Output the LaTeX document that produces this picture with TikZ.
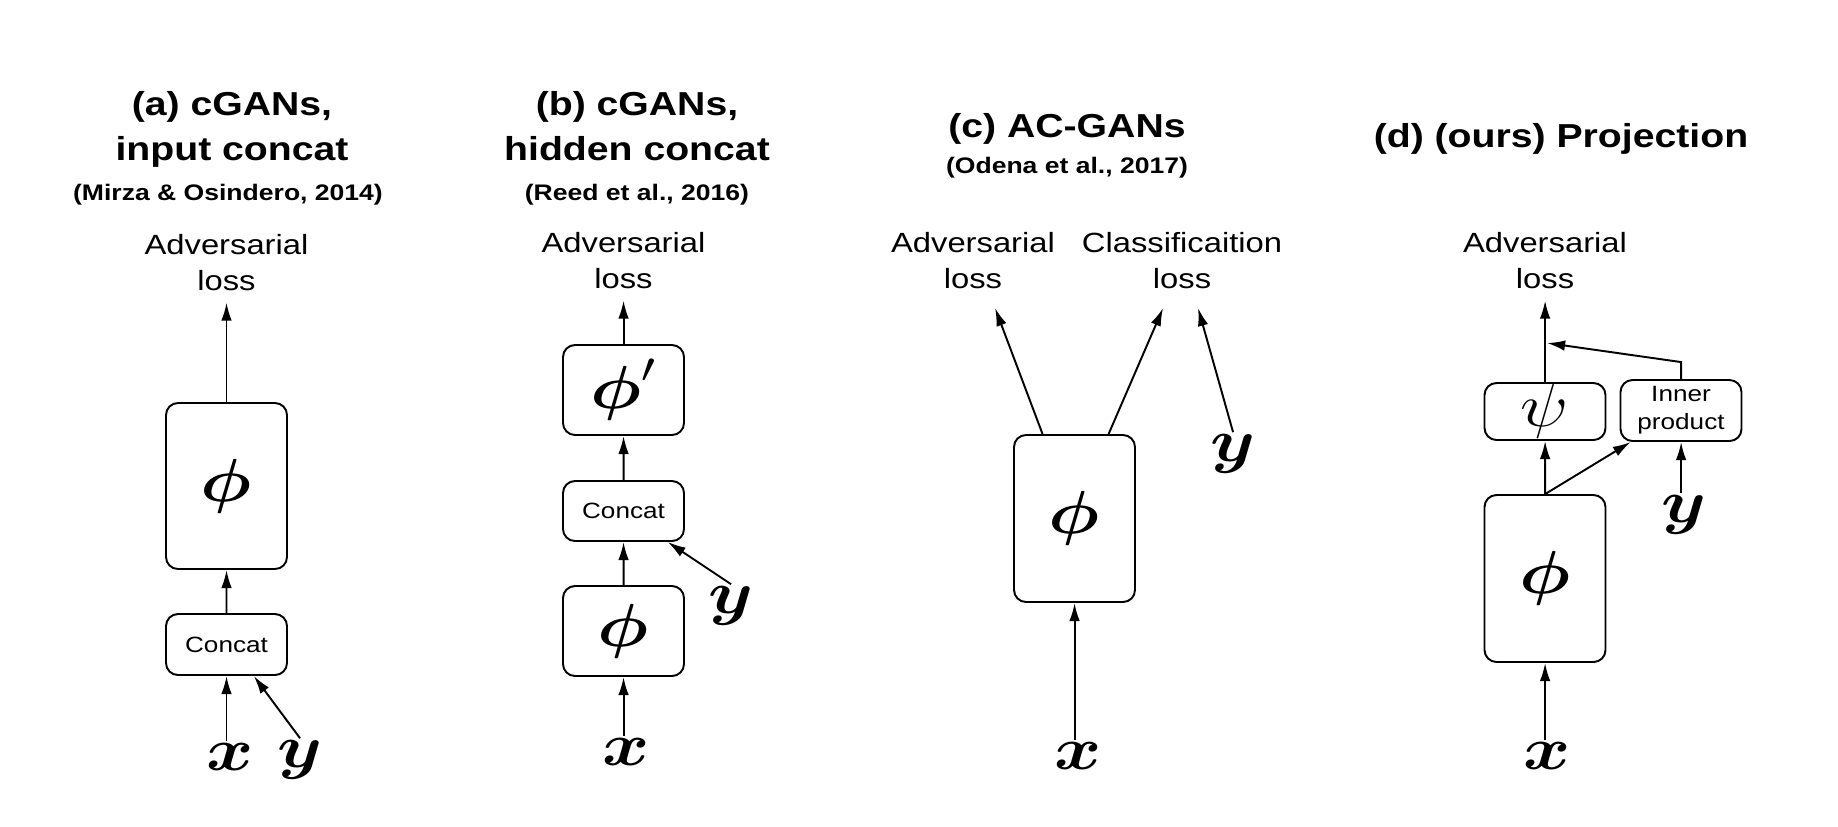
\documentclass[tikz,border=0pt]{standalone}
\usepackage{amsmath}
\usepackage{graphicx}
\usepackage{fontspec}
\setmainfont{Liberation Sans}[FakeStretch=1.18]
\usetikzlibrary{arrows.meta,positioning,calc}
\newcommand{\wm}[1]{\scalebox{1.18}[1]{$#1$}}

\begin{document}
\begin{tikzpicture}[scale=0.1,
    box/.style={draw, rounded corners=1.2mm, line width=0.55pt, minimum width=1.21cm, inner sep=0pt},
    arr/.style={-{Latex[length=1.8mm,width=1.05mm]}, line width=0.55pt},
    title/.style={font=\bfseries\fontsize{9.45}{12.75}\selectfont, align=center, anchor=base, inner sep=0pt},
    cite/.style={font=\bfseries\fontsize{6.4}{8}\selectfont, anchor=base, inner sep=0pt},
    loss/.style={font=\fontsize{7.9}{10.2}\selectfont, align=center, anchor=base, inner xsep=0pt, inner ysep=3.3pt},
    small/.style={font=\fontsize{6.3}{8}\selectfont, align=center},
    var/.style={font=\fontsize{17.5}{18}\selectfont, inner sep=0.5pt},
    net/.style={font=\fontsize{17.5}{18}\selectfont}]
    \useasboundingbox (0,0) rectangle (183.8,-82.6);
    % (a) input concat
    \node[title] (ta) at (23.2,-16.0) {(a) cGANs,\\input concat};
    \node[cite] (ra) at (22.8,-20.0) {(Mirza \& Osindero, 2014)};
    \node[loss] (la) at (22.65,-29.0) {Adversarial\\loss};
    \node[box, net, minimum height=1.66cm] (pa) at (22.65,-48.6) {\wm{\boldsymbol{\phi}}};
    \node[box, small, minimum height=0.61cm] (ca) at (22.65,-64.45) {Concat};
    \node[var] (xa) at (23.0,-75.7) {\wm{\boldsymbol{x}}};
    \node[var] (ya) at (30.0,-76.0) {\wm{\boldsymbol{y}}};
    \draw[arr] (ca.south |- xa.north) -- (ca.south);
    \draw[arr] (ya.north) -- (ca.-49);
    \draw[arr] (ca) -- (pa);
    \draw[arr] (pa.north) -- (pa.north |- la.south);
    % (b) hidden concat
    \node[title] (tb) at (63.7,-16.0) {(b) cGANs,\\hidden concat};
    \node[cite] (rb) at (63.7,-20.0) {(Reed et al., 2016)};
    \node[loss] (lb) at (62.35,-28.8) {Adversarial\\loss};
    \node[box, net, minimum height=0.9cm] (pb2) at (62.35,-39.0) {\wm{\boldsymbol{\phi}'}};
    \node[box, small, minimum height=0.6cm] (cb) at (62.35,-51.1) {Concat};
    \node[box, net, minimum height=0.9cm] (pb1) at (62.35,-63.1) {\wm{\boldsymbol{\phi}}};
    \node[var] (xb) at (62.6,-75.2) {\wm{\boldsymbol{x}}};
    \node[var] (yb) at (73.1,-60.6) {\wm{\boldsymbol{y}}};
    \draw[arr] (pb1.south |- xb.north) -- (pb1.south);
    \draw[arr] (pb1) -- (cb);
    \draw[arr] (yb.north) -- (cb.-35);
    \draw[arr] (cb) -- (pb2);
    \draw[arr] (pb2.north) -- (pb2.north |- lb.south);
    % (c) AC-GANs
    \node[title] (tc) at (106.7,-13.7) {(c) AC-GANs};
    \node[cite] (rc) at (106.7,-17.3) {(Odena et al., 2017)};
    \node[loss] (lc1) at (97.3,-28.8) {Adversarial\\loss};
    \node[loss] (lc2) at (118.2,-28.8) {Classificaition\\loss};
    \node[box, net, minimum height=1.67cm] (pc) at (107.45,-51.85) {\wm{\boldsymbol{\phi}}};
    \node[var] (yc) at (123.3,-45.4) {\wm{\boldsymbol{y}}};
    \node[var] (xc) at (107.8,-75.6) {\wm{\boldsymbol{x}}};
    \coordinate (ec1) at (99.5,-30.8);
    \coordinate (ec2) at (116.3,-30.8);
    \coordinate (ec3) at (119.8,-30.8);
    \draw[arr] (pc.south |- xc.north) -- (pc.south);
    \draw[arr] ($(pc.north)+(-3.2,0)$) -- (ec1);
    \draw[arr] ($(pc.north)+(3.4,0)$) -- (ec2);
    \draw[arr] (yc.north) -- (ec3);
    % (d) projection
    \node[title] (td) at (156.1,-14.7) {(d) (ours) Projection};
    \node[loss] (ld) at (154.5,-28.8) {Adversarial\\loss};
    \node[box, net, minimum height=0.57cm] (sd) at (154.5,-41.15) {\wm{\psi}};
    \node[box, small, minimum height=0.61cm] (ipd) at (168.1,-41.05) {Inner\\product};
    \node[box, net, minimum height=1.67cm] (pd) at (154.5,-57.85) {\wm{\boldsymbol{\phi}}};
    \node[var] (yd) at (168.4,-51.5) {\wm{\boldsymbol{y}}};
    \node[var] (xd) at (154.7,-75.6) {\wm{\boldsymbol{x}}};
    \coordinate (jd) at (154.7,-34.3);
    \draw[arr] (pd.south |- xd.north) -- (pd.south);
    \draw[arr] (pd) -- (sd);
    \draw[arr] (pd.north) -- (ipd.212);
    \draw[arr] (ipd.south |- yd.north) -- (ipd.south);
    \draw[arr] (sd.north) -- (sd.north |- ld.south);
    \draw[arr] (ipd.north) -- ++(0,1.7) -- (jd);
\end{tikzpicture}
\end{document}
